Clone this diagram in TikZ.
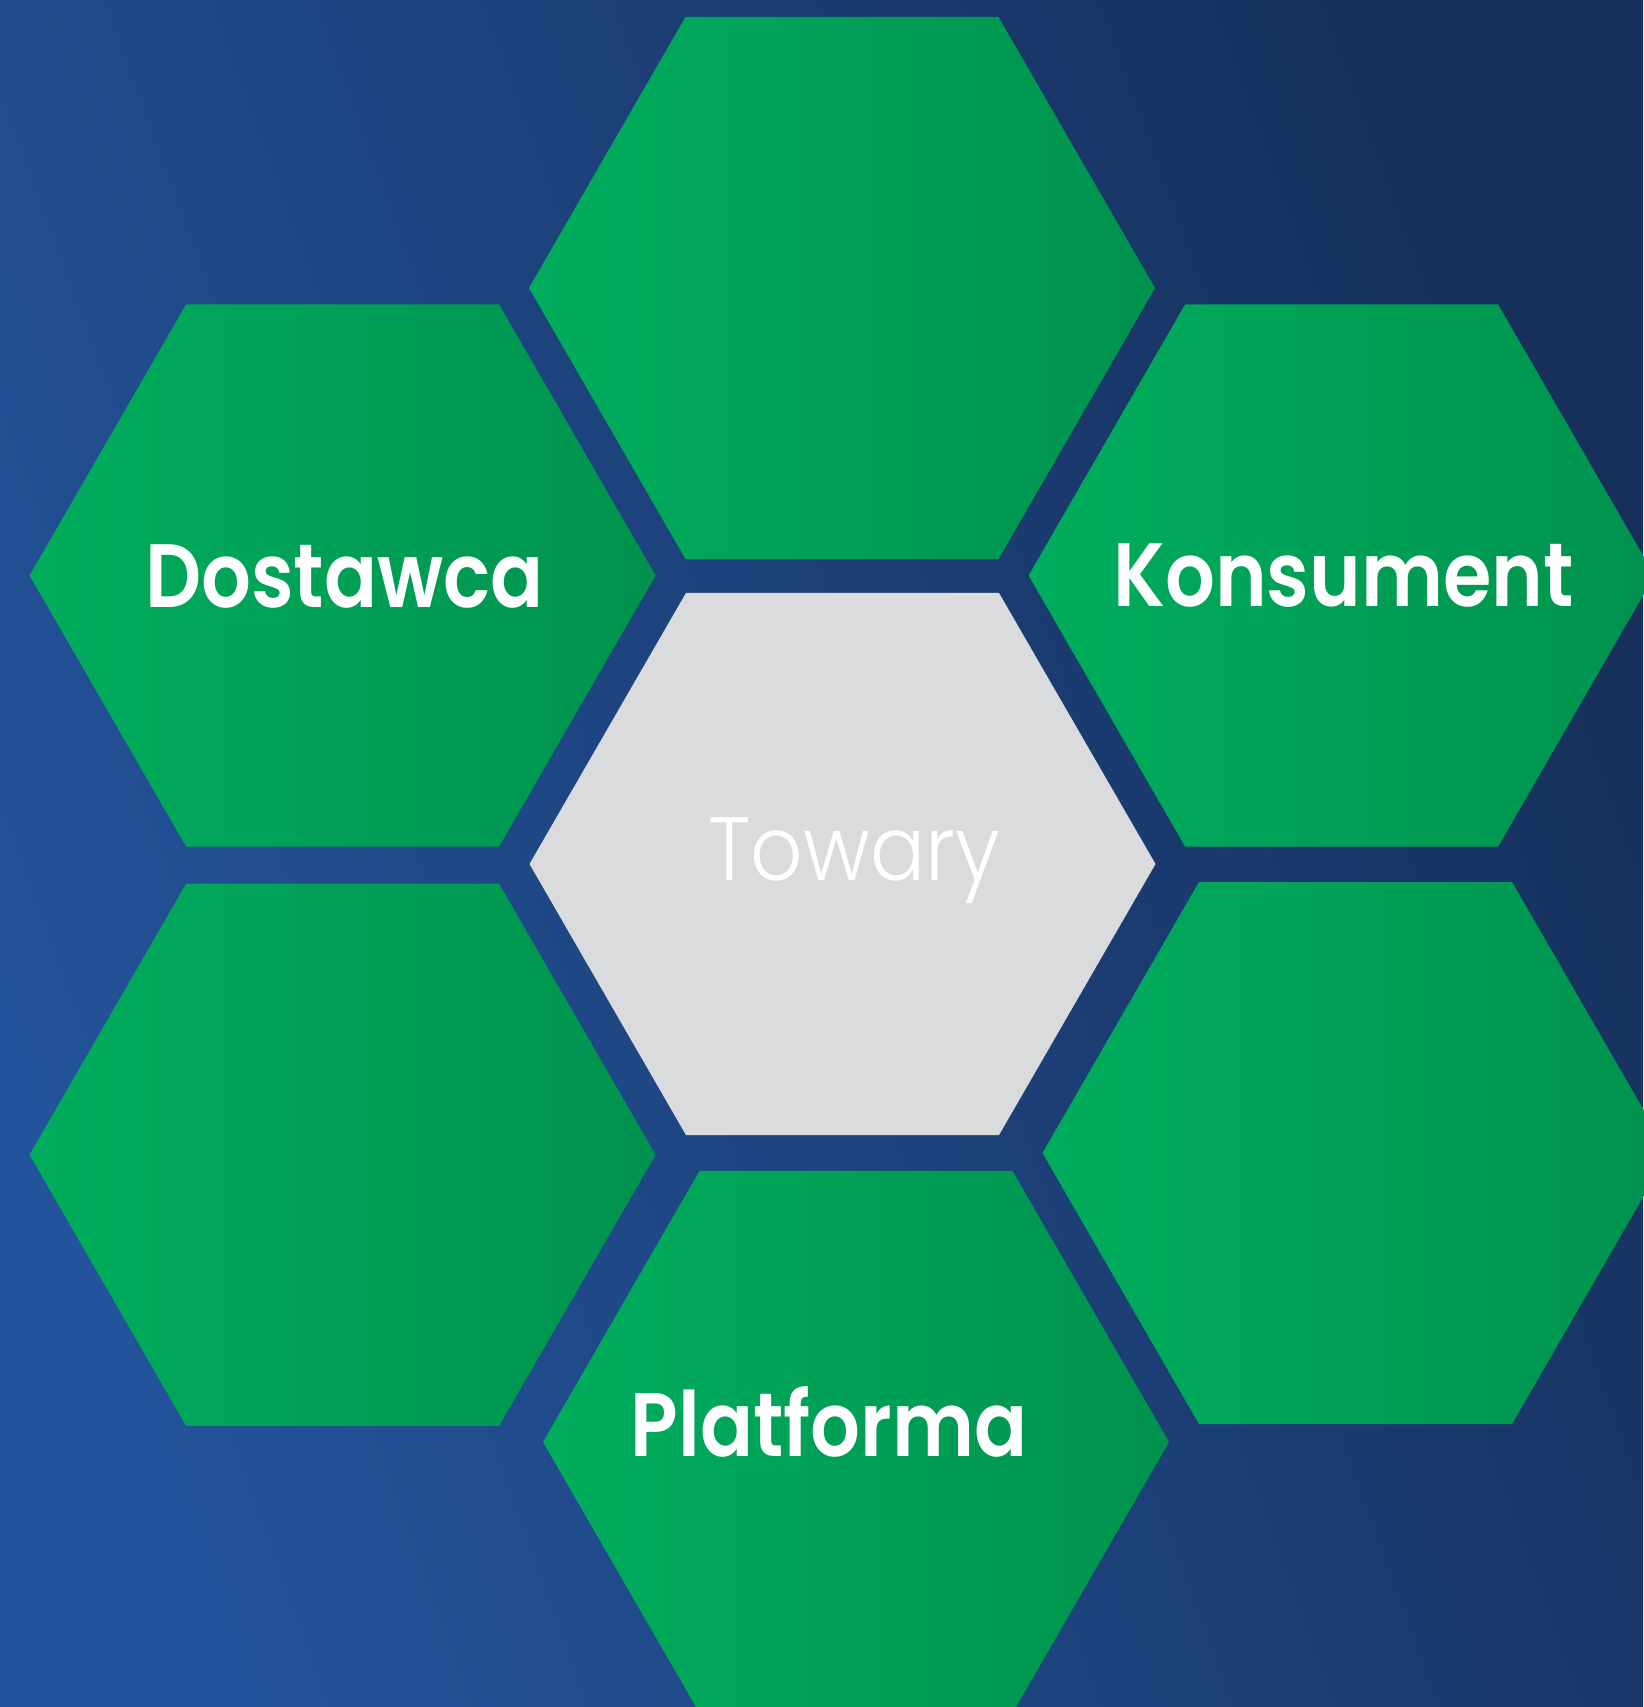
\documentclass[tikz,border=0pt]{standalone}
\usepackage{fontspec}
\setmainfont{Poppins}
\newfontfamily\towfont{Poppins Light}[FakeStretch=0.91]
\newfontfamily\labfont{Poppins SemiBold}[FakeStretch=0.87]
\usetikzlibrary{shapes.geometric}
\definecolor{bglight}{HTML}{23539A}
\definecolor{bgdark}{HTML}{16305B}
\definecolor{gleft}{HTML}{00AD5D}
\definecolor{gright}{HTML}{00924E}
\definecolor{hexgray}{HTML}{DADBDD}
\tikzset{
  hexbase/.style={regular polygon, regular polygon sides=6, minimum size=626pt, inner sep=0pt, draw=none},
  hexgreen/.style={hexbase, left color=gleft, right color=gright},
  hexgrey/.style={hexbase, fill=hexgray},
  boldlabel/.style={anchor=base, inner sep=0pt, text=white, font=\fontsize{90}{90}\selectfont\labfont},
  lightlabel/.style={anchor=base, inner sep=0pt, text=white, font=\fontsize{90}{90}\selectfont\towfont},
}
\begin{document}
\begin{tikzpicture}[x=1pt,y=-1pt]
\useasboundingbox (0,0) rectangle (1643,1707);
\shade[top color=bgdark, bottom color=bglight, shading angle=-70] (0,0) rectangle (1643,1707);
% hexagons
\node[hexgreen] (top) at (842,288) {};
\node[hexgrey] (center) at (842.5,864) {};
\node[hexgreen] (dost) at (342.6,575.5) {};
\node[hexgreen] (kons) at (1341.6,575.5) {};
\node[hexgreen] (bl) at (342.6,1154.8) {};
\node[hexgreen] (br) at (1355.5,1153) {};
\node[hexgreen] (plat) at (856,1442) {};
% labels
\node[boldlabel] (tdost) at (344.5,607.6) {Dostawca};
\node[boldlabel] (tkons) at (1343.4,606) {Konsument};
\node[boldlabel] (tplat) at (829,1456.6) {Platforma};
\node[lightlabel] (ttow) at (854,880.7) {Towary};
\end{tikzpicture}
\end{document}
